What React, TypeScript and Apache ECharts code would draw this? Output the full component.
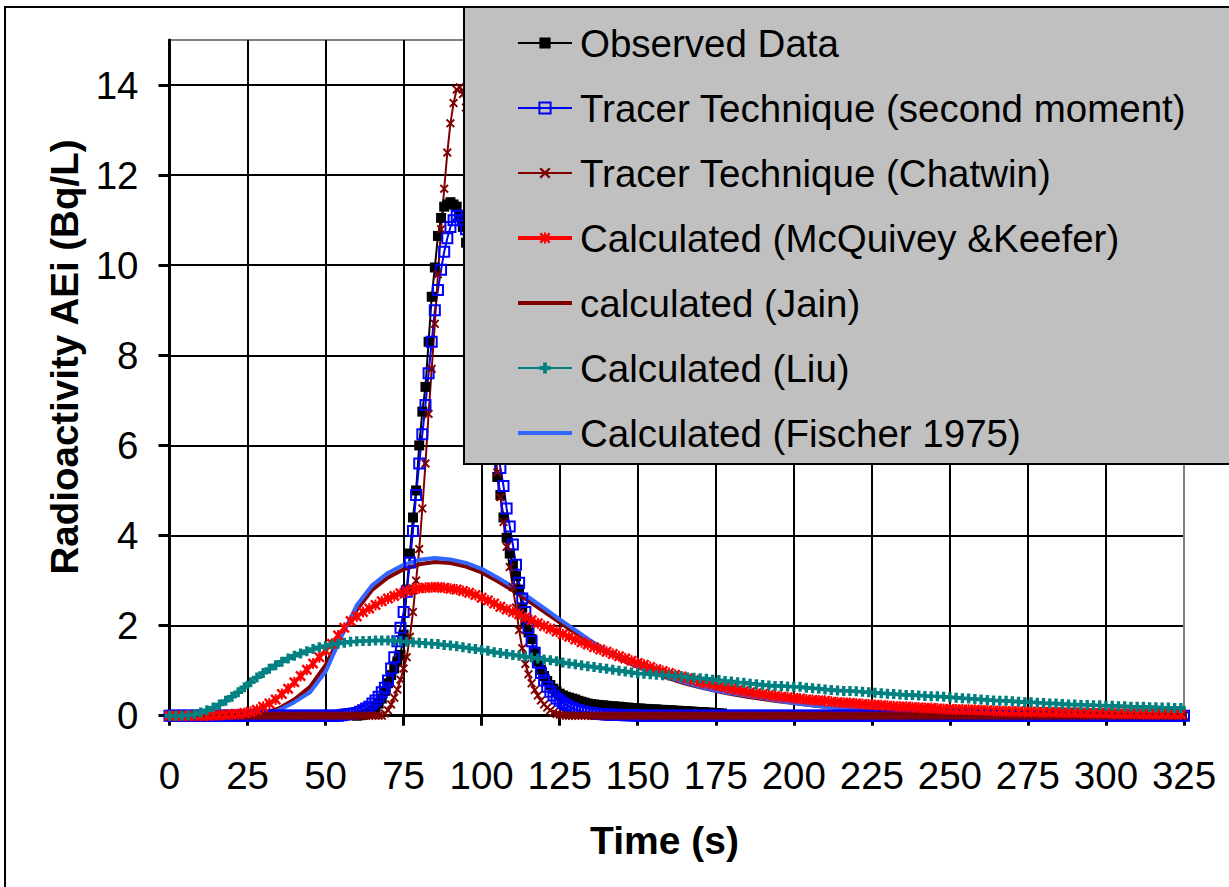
import React, { useEffect, useRef } from "react";
import * as echarts from "echarts";

const FONT = "'Liberation Sans', Arial, Helvetica, sans-serif";

// ---- axis ticks ----
const yTickValues = [0, 2, 4, 6, 8, 10, 12, 14];
const xMax = 325;
const yMax = 15;

// ---- series names ----
const NAME_OBS = "Observed Data";
const NAME_SM = "Tracer Technique (second moment)";
const NAME_CH = "Tracer Technique (Chatwin)";
const NAME_MK = "Calculated (McQuivey &Keefer)";
const NAME_JAIN = "calculated (Jain)";
const NAME_LIU = "Calculated (Liu)";
const NAME_FI = "Calculated (Fischer 1975)";

// ---- Observed data: t = 60 .. 177 s, step 1 s ----
const observedStart = 60;
const observedStep = 1;
const observedValues = [
  0, 0.01, 0.02, 0.04, 0.07, 0.12, 0.18, 0.27, 0.38, 0.55, 0.72, 0.9, 1.05, 1.2, 1.35, 1.8, 2.8, 3.6, 4.4, 5.0,
  6.0, 6.75, 7.3, 8.3, 9.3, 9.95, 10.65, 11.05, 11.3, 11.35, 11.4, 11.35, 11.3, 11.1, 10.85, 10.5, 10.1, 9.6, 9.05, 8.45,
  7.85, 7.25, 6.7, 6.2, 5.7, 5.3, 4.9, 4.4, 3.95, 3.6, 3.35, 3.1, 2.8, 2.4, 2.05, 1.85, 1.7, 1.4, 1.2, 1.02,
  0.88, 0.77, 0.68, 0.6, 0.54, 0.49, 0.45, 0.42, 0.4, 0.38, 0.36, 0.33, 0.31, 0.29, 0.27, 0.26, 0.25, 0.24, 0.23, 0.23,
  0.22, 0.21, 0.21, 0.2, 0.2, 0.19, 0.18, 0.18, 0.17, 0.17, 0.16, 0.16, 0.15, 0.15, 0.14, 0.14, 0.14, 0.13, 0.13, 0.12,
  0.12, 0.12, 0.11, 0.11, 0.1, 0.1, 0.1, 0.09, 0.09, 0.08, 0.08, 0.08, 0.07, 0.07, 0.06, 0.06, 0.05, 0.05,
];

// ---- Tracer technique (second moment): t = 0 .. 325 s, step 1 s ----
const secondMomentStart = 0;
const secondMomentStep = 1;
const secondMomentValues = [
  0, 0, 0, 0, 0, 0, 0, 0, 0, 0, 0, 0, 0, 0, 0, 0, 0, 0, 0, 0,
  0, 0, 0, 0, 0, 0, 0, 0, 0, 0, 0, 0, 0, 0, 0, 0, 0, 0, 0, 0,
  0, 0, 0, 0, 0, 0, 0, 0, 0, 0, 0, 0, 0, 0, 0, 0.01, 0.02, 0.03, 0.04, 0.05,
  0.06, 0.09, 0.12, 0.16, 0.2, 0.27, 0.34, 0.42, 0.52, 0.62, 0.78, 1.05, 1.3, 1.65, 1.95, 2.3, 2.75, 3.4, 4.1, 4.9,
  5.6, 6.25, 6.9, 7.6, 8.3, 9.0, 9.45, 9.9, 10.3, 10.6, 10.85, 11.0, 11.1, 11.1, 11.0, 10.8, 10.5, 10.1, 9.6, 9.0,
  8.4, 7.8, 7.2, 6.7, 6.3, 5.9, 5.5, 5.1, 4.6, 4.2, 3.8, 3.35, 2.95, 2.6, 2.3, 1.95, 1.65, 1.4, 1.18, 0.95,
  0.78, 0.64, 0.53, 0.45, 0.38, 0.33, 0.28, 0.24, 0.2, 0.17, 0.14, 0.12, 0.1, 0.08, 0.07, 0.06, 0.05, 0.04, 0.035, 0.03,
  0.025, 0.02, 0.02, 0.02, 0.015, 0.015, 0.01, 0.01, 0.01, 0.005, 0.005, 0, 0, 0, 0, 0, 0, 0, 0, 0,
  0, 0, 0, 0, 0, 0, 0, 0, 0, 0, 0, 0, 0, 0, 0, 0, 0, 0, 0, 0,
  0, 0, 0, 0, 0, 0, 0, 0, 0, 0, 0, 0, 0, 0, 0, 0, 0, 0, 0, 0,
  0, 0, 0, 0, 0, 0, 0, 0, 0, 0, 0, 0, 0, 0, 0, 0, 0, 0, 0, 0,
  0, 0, 0, 0, 0, 0, 0, 0, 0, 0, 0, 0, 0, 0, 0, 0, 0, 0, 0, 0,
  0, 0, 0, 0, 0, 0, 0, 0, 0, 0, 0, 0, 0, 0, 0, 0, 0, 0, 0, 0,
  0, 0, 0, 0, 0, 0, 0, 0, 0, 0, 0, 0, 0, 0, 0, 0, 0, 0, 0, 0,
  0, 0, 0, 0, 0, 0, 0, 0, 0, 0, 0, 0, 0, 0, 0, 0, 0, 0, 0, 0,
  0, 0, 0, 0, 0, 0, 0, 0, 0, 0, 0, 0, 0, 0, 0, 0, 0, 0, 0, 0,
  0, 0, 0, 0, 0, 0,
];

// ---- Tracer technique (Chatwin): t = 0 .. 325 s, step 1 s ----
const chatwinStart = 0;
const chatwinStep = 1;
const chatwinValues = [
  0, 0, 0, 0, 0, 0, 0, 0, 0, 0, 0, 0, 0, 0, 0, 0, 0, 0, 0, 0,
  0, 0, 0, 0, 0, 0, 0, 0, 0, 0, 0, 0, 0, 0, 0, 0, 0, 0, 0, 0,
  0, 0, 0, 0, 0, 0, 0, 0, 0, 0, 0, 0, 0, 0, 0, 0, 0, 0, 0, 0,
  0, 0, 0, 0, 0, 0, 0, 0, 0, 0.05, 0.12, 0.25, 0.4, 0.58, 0.8, 1.05, 1.3, 1.75, 2.3, 3.0,
  3.7, 4.6, 5.6, 6.7, 7.7, 8.7, 9.8, 10.8, 11.7, 12.5, 13.15, 13.6, 13.9, 13.95, 13.8, 13.5, 13.0, 12.3, 11.5, 10.6,
  9.7, 8.8, 7.9, 7.0, 6.2, 5.4, 4.85, 4.3, 3.75, 3.3, 2.85, 2.4, 1.9, 1.5, 1.15, 0.92, 0.72, 0.57, 0.45, 0.34,
  0.25, 0.18, 0.12, 0.07, 0.04, 0.02, 0.01, 0, 0, 0, 0, 0, 0, 0, 0, 0, 0, 0, 0, 0,
  0, 0, 0, 0, 0, 0, 0, 0, 0, 0, 0, 0, 0, 0, 0, 0, 0, 0, 0, 0,
  0, 0, 0, 0, 0, 0, 0, 0, 0, 0, 0, 0, 0, 0, 0, 0, 0, 0, 0, 0,
  0, 0, 0, 0, 0, 0, 0, 0, 0, 0, 0, 0, 0, 0, 0, 0, 0, 0, 0, 0,
  0, 0, 0, 0, 0, 0, 0, 0, 0, 0, 0, 0, 0, 0, 0, 0, 0, 0, 0, 0,
  0, 0, 0, 0, 0, 0, 0, 0, 0, 0, 0, 0, 0, 0, 0, 0, 0, 0, 0, 0,
  0, 0, 0, 0, 0, 0, 0, 0, 0, 0, 0, 0, 0, 0, 0, 0, 0, 0, 0, 0,
  0, 0, 0, 0, 0, 0, 0, 0, 0, 0, 0, 0, 0, 0, 0, 0, 0, 0, 0, 0,
  0, 0, 0, 0, 0, 0, 0, 0, 0, 0, 0, 0, 0, 0, 0, 0, 0, 0, 0, 0,
  0, 0, 0, 0, 0, 0, 0, 0, 0, 0, 0, 0, 0, 0, 0, 0, 0, 0, 0, 0,
  0, 0, 0, 0, 0, 0,
];

// ---- Calculated (McQuivey & Keefer): t = 0 .. 324 s, step 2 s ----
const mcquiveyStart = 0;
const mcquiveyStep = 2;
const mcquiveyValues = [
  0, 0, 0, 0, 0, 0, 0, 0.01, 0.01, 0.02,
  0.03, 0.04, 0.06, 0.09, 0.13, 0.2, 0.27, 0.36, 0.48, 0.6,
  0.74, 0.88, 1.02, 1.16, 1.3, 1.45, 1.6, 1.78, 1.95, 2.1,
  2.2, 2.3, 2.38, 2.46, 2.54, 2.6, 2.66, 2.72, 2.77, 2.8,
  2.83, 2.84, 2.85, 2.85, 2.84, 2.82, 2.8, 2.77, 2.73, 2.68,
  2.62, 2.56, 2.49, 2.42, 2.36, 2.3, 2.25, 2.18, 2.12, 2.05,
  1.99, 1.93, 1.87, 1.81, 1.75, 1.69, 1.63, 1.58, 1.52, 1.47,
  1.42, 1.37, 1.32, 1.27, 1.22, 1.17, 1.13, 1.08, 1.03, 0.99,
  0.95, 0.91, 0.87, 0.83, 0.79, 0.75, 0.72, 0.69, 0.66, 0.63,
  0.6, 0.57, 0.55, 0.52, 0.5, 0.48, 0.46, 0.44, 0.42, 0.41,
  0.39, 0.38, 0.36, 0.35, 0.34, 0.33, 0.31, 0.3, 0.29, 0.28,
  0.27, 0.26, 0.25, 0.24, 0.23, 0.22, 0.21, 0.2, 0.2, 0.19,
  0.18, 0.17, 0.17, 0.16, 0.15, 0.15, 0.14, 0.14, 0.13, 0.13,
  0.12, 0.12, 0.11, 0.11, 0.1, 0.1, 0.1, 0.09, 0.09, 0.09,
  0.08, 0.08, 0.08, 0.07, 0.07, 0.07, 0.07, 0.06, 0.06, 0.06,
  0.06, 0.05, 0.05, 0.05, 0.05, 0.05, 0.04, 0.04, 0.04, 0.04,
  0.04, 0.03, 0.03,
];

// ---- Calculated (Jain): t = 0 .. 325 s, step 5 s ----
const jainStart = 0;
const jainStep = 5;
const jainValues = [
  0, 0, 0, 0, 0, 0.01, 0.05, 0.16, 0.36, 0.64,
  1.12, 1.8, 2.35, 2.8, 3.07, 3.25, 3.36, 3.41, 3.39, 3.31,
  3.18, 2.99, 2.78, 2.55, 2.31, 2.07, 1.84, 1.61, 1.42, 1.24,
  1.08, 0.95, 0.83, 0.72, 0.63, 0.55, 0.48, 0.42, 0.37, 0.32,
  0.28, 0.24, 0.2, 0.17, 0.15, 0.12, 0.1, 0.09, 0.07, 0.06,
  0.05, 0.045, 0.04, 0.03, 0.025, 0.02, 0.02, 0.015, 0.01, 0.01,
  0.01, 0.005, 0.005, 0, 0, 0,
];

// ---- Calculated (Liu): t = 0 .. 324 s, step 2 s ----
const liuStart = 0;
const liuStep = 2;
const liuValues = [
  0, 0, 0, 0.01, 0.03, 0.07, 0.12, 0.18, 0.25, 0.33,
  0.42, 0.52, 0.63, 0.74, 0.85, 0.95, 1.04, 1.12, 1.2, 1.27,
  1.33, 1.38, 1.43, 1.48, 1.52, 1.55, 1.58, 1.6, 1.62, 1.64,
  1.65, 1.66, 1.66, 1.67, 1.67, 1.67, 1.66, 1.65, 1.64, 1.63,
  1.62, 1.61, 1.6, 1.59, 1.57, 1.56, 1.54, 1.52, 1.5, 1.48,
  1.46, 1.44, 1.41, 1.39, 1.37, 1.35, 1.33, 1.31, 1.29, 1.27,
  1.25, 1.23, 1.21, 1.18, 1.16, 1.14, 1.12, 1.1, 1.08, 1.06,
  1.04, 1.02, 1.0, 0.98, 0.96, 0.94, 0.93, 0.92, 0.91, 0.9,
  0.89, 0.88, 0.87, 0.85, 0.84, 0.83, 0.82, 0.8, 0.79, 0.77,
  0.76, 0.74, 0.73, 0.71, 0.7, 0.68, 0.67, 0.66, 0.66, 0.65,
  0.64, 0.64, 0.62, 0.61, 0.6, 0.58, 0.57, 0.56, 0.55, 0.55,
  0.54, 0.53, 0.52, 0.51, 0.5, 0.49, 0.48, 0.47, 0.46, 0.46,
  0.45, 0.44, 0.43, 0.43, 0.42, 0.41, 0.4, 0.39, 0.38, 0.37,
  0.36, 0.35, 0.34, 0.33, 0.33, 0.32, 0.31, 0.3, 0.3, 0.29,
  0.28, 0.27, 0.27, 0.26, 0.25, 0.25, 0.24, 0.24, 0.23, 0.23,
  0.22, 0.22, 0.21, 0.21, 0.2, 0.2, 0.2, 0.19, 0.19, 0.18,
  0.18, 0.17, 0.17,
];

// ---- Calculated (Fischer 1975): t = 0 .. 325 s, step 5 s ----
const fischerStart = 0;
const fischerStep = 5;
const fischerValues = [
  0, 0, 0, 0, 0, 0.01, 0.03, 0.12, 0.3, 0.52,
  0.98, 1.75, 2.45, 2.9, 3.17, 3.35, 3.46, 3.5, 3.47, 3.39,
  3.26, 3.07, 2.86, 2.63, 2.39, 2.14, 1.9, 1.66, 1.45, 1.27,
  1.1, 0.97, 0.85, 0.74, 0.64, 0.56, 0.5, 0.44, 0.39, 0.33,
  0.28, 0.24, 0.2, 0.17, 0.14, 0.12, 0.1, 0.09, 0.08, 0.07,
  0.06, 0.05, 0.04, 0.035, 0.03, 0.025, 0.02, 0.02, 0.015, 0.01,
  0.01, 0.01, 0.005, 0.005, 0, 0,
];

function toPairs(start: number, step: number, values: number[]) {
  return values.map((v, i) => [start + i * step, v]);
}

// marker shapes (Excel-like)
const X_MARK =
  "path://M0,1.5L1.5,0L5,3.5L8.5,0L10,1.5L6.5,5L10,8.5L8.5,10L5,6.5L1.5,10L0,8.5L3.5,5Z";
const STAR_MARK =
  "path://M0,1.6L1.6,0L5,3.4L8.4,0L10,1.6L6.6,5L10,8.4L8.4,10L5,6.6L1.6,10L0,8.4L3.4,5Z M4.1,0L5.9,0L5.9,10L4.1,10Z";
const PLUS_MARK = "path://M3.3,0H6.7V3.3H10V6.7H6.7V10H3.3V6.7H0V3.3H3.3Z";
// legend icon: a 4px-thick horizontal bar inside a 54x14 box (tiny corner dots fix the box)
const BAR_ICON = "path://M0,0H0.01V0.01H0Z M0,5H54V9H0Z M53.99,13.99H54V14H53.99Z";

export default function App() {
  const ref = useRef<HTMLDivElement>(null);

  useEffect(() => {
    if (!ref.current) return;
    const chart = echarts.init(ref.current, undefined, { renderer: "svg" });

    const xSplitColors: string[] = [];
    for (let v = 0; v <= xMax; v += 25) xSplitColors.push(v === xMax ? "#808080" : "#000000");
    const ySplitColors = ["#000000", "#000000", "#000000", "#000000", "#000000", "#000000", "#000000", "#000000", "#808080"];

    const option: any = {
      animation: false,
      backgroundColor: "#ffffff",
      textStyle: { fontFamily: FONT },
      grid: {
        left: 169.5,
        right: 45,
        top: 40,
        bottom: 171.3,
        show: true,
        borderColor: "#808080",
        borderWidth: 2,
        backgroundColor: "transparent",
      },
      xAxis: {
        type: "value",
        min: 0,
        max: xMax,
        interval: 25,
        axisLine: { show: true, onZero: false, lineStyle: { color: "#000", width: 3 } },
        axisTick: { show: true, inside: false, length: 10, lineStyle: { color: "#000", width: 3 } },
        axisLabel: { fontSize: 38.5, color: "#000", fontFamily: FONT, margin: 40 },
        splitLine: { show: true, lineStyle: { color: xSplitColors, width: 2 } },
      },
      yAxis: {
        type: "value",
        min: 0,
        max: yMax,
        interval: 2,
        axisLine: { show: true, onZero: false, lineStyle: { color: "#000", width: 3 } },
        axisTick: {
          show: true,
          inside: false,
          length: 11,
          customValues: yTickValues,
          lineStyle: { color: "#000", width: 3 },
        },
        axisLabel: {
          fontSize: 38.5,
          color: "#000",
          fontFamily: FONT,
          margin: 31,
          customValues: yTickValues,
          formatter: (v: number) => (v === yMax ? "" : String(v)),
        },
        splitLine: { show: true, lineStyle: { color: ySplitColors, width: 2 } },
      },
      legend: {
        show: true,
        orient: "vertical",
        left: 464,
        top: 7,
        padding: [16, 60, 11, 52],
        itemGap: 25,
        itemWidth: 54,
        itemHeight: 14,
        backgroundColor: "#c0c0c0",
        borderColor: "#000",
        borderWidth: 2,
        borderRadius: 0,
        selectedMode: false,
        textStyle: { fontSize: 38.5, lineHeight: 40, color: "#000", fontFamily: FONT, padding: [0, 0, 0, 3] },
        data: [
          { name: NAME_OBS },
          { name: NAME_SM },
          { name: NAME_CH },
          { name: NAME_MK, lineStyle: { width: 4 } },
          { name: NAME_JAIN, icon: BAR_ICON, itemStyle: { color: "#800000", borderWidth: 0 } },
          { name: NAME_LIU },
          { name: NAME_FI, icon: BAR_ICON, itemStyle: { color: "#3366ff", borderWidth: 0 } },
        ],
      },
      graphic: [
        {
          type: "rect",
          silent: true,
          z: 100,
          shape: { x: 5, y: 7, width: 1400, height: 1000 },
          style: { fill: "none", stroke: "#000", lineWidth: 2 },
        },
        {
          type: "text",
          silent: true,
          x: 664.5,
          y: 840,
          style: {
            text: "Time (s)",
            fontSize: 39,
            fontWeight: "bold",
            fontFamily: FONT,
            fill: "#000",
            align: "center",
            verticalAlign: "middle",
          },
        },
        {
          type: "text",
          silent: true,
          x: 64,
          y: 357,
          rotation: Math.PI / 2,
          style: {
            text: "Radioactivity AEi (Bq/L)",
            fontSize: 38.5,
            fontWeight: "bold",
            fontFamily: FONT,
            fill: "#000",
            align: "center",
            verticalAlign: "middle",
          },
        },
      ],
      series: [
        {
          name: NAME_OBS,
          type: "line",
          data: toPairs(observedStart, observedStep, observedValues),
          symbol: "rect",
          symbolSize: 10,
          itemStyle: { color: "#000000" },
          lineStyle: { color: "#000000", width: 2 },
          emphasis: { disabled: true },
        },
        {
          name: NAME_SM,
          type: "line",
          data: toPairs(secondMomentStart, secondMomentStep, secondMomentValues),
          symbol: "rect",
          symbolSize: 10,
          itemStyle: { color: "rgba(0,0,255,0)", borderColor: "#0000ff", borderWidth: 2 },
          lineStyle: { color: "#0000ff", width: 2 },
          emphasis: { disabled: true },
        },
        {
          name: NAME_CH,
          type: "line",
          data: toPairs(chatwinStart, chatwinStep, chatwinValues),
          symbol: X_MARK,
          symbolSize: 9,
          itemStyle: { color: "#800000" },
          lineStyle: { color: "#800000", width: 2 },
          emphasis: { disabled: true },
        },
        {
          name: NAME_MK,
          type: "line",
          data: toPairs(mcquiveyStart, mcquiveyStep, mcquiveyValues),
          symbol: STAR_MARK,
          symbolSize: 11,
          itemStyle: { color: "#ff0000" },
          lineStyle: { color: "#ff0000", width: 4 },
          emphasis: { disabled: true },
        },
        {
          name: NAME_JAIN,
          type: "line",
          data: toPairs(jainStart, jainStep, jainValues),
          symbol: "none",
          itemStyle: { color: "#800000" },
          lineStyle: { color: "#800000", width: 4 },
          emphasis: { disabled: true },
        },
        {
          name: NAME_LIU,
          type: "line",
          data: toPairs(liuStart, liuStep, liuValues),
          symbol: PLUS_MARK,
          symbolSize: 10,
          itemStyle: { color: "#008080" },
          lineStyle: { color: "#008080", width: 2 },
          emphasis: { disabled: true },
        },
        {
          name: NAME_FI,
          type: "line",
          data: toPairs(fischerStart, fischerStep, fischerValues),
          symbol: "none",
          itemStyle: { color: "#3366ff" },
          lineStyle: { color: "#3366ff", width: 4 },
          emphasis: { disabled: true },
        },
      ],
    };

    chart.setOption(option);
    return () => {
      chart.dispose();
    };
  }, []);

  return (
    <div
      ref={ref}
      style={{ position: "absolute", left: 0, top: 0, width: 1229, height: 887, background: "#fff" }}
    />
  );
}
